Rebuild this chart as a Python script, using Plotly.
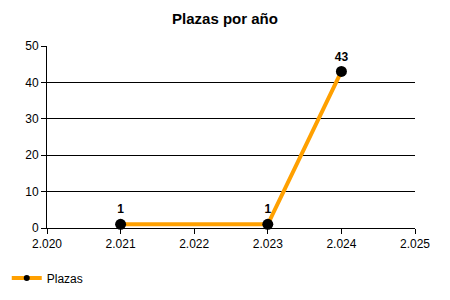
import plotly.graph_objects as go

years = [2021, 2023, 2024]
plazas = [1, 1, 43]
labels = ["1", "1", "43"]
series_name = "Plazas"
title = "Plazas por año"

fig = go.Figure()
fig.add_trace(go.Scatter(
    x=years, y=plazas, name=series_name,
    mode="lines+markers+text",
    text=labels, textposition="top center",
    textfont=dict(family="Liberation Sans", size=12, color="black", weight="bold"),
    line=dict(color="#FFA000", width=4),
    marker=dict(color="black", size=11),
    cliponaxis=False, showlegend=False,
))
# legend entry with small marker, as in the reference
fig.add_trace(go.Scatter(
    x=[None], y=[None], name=series_name, mode="lines+markers",
    line=dict(color="#FFA000", width=4),
    marker=dict(color="black", size=6),
    showlegend=True,
))

fig.update_layout(
    width=450, height=300,
    margin=dict(l=47, r=35, t=46, b=72),
    paper_bgcolor="white", plot_bgcolor="white",
    separators=",.",
    title=dict(text="<b>" + title + "</b>", x=0.5, xanchor="center", y=1 - 19/300, yanchor="middle",
               font=dict(family="Liberation Sans", size=15, color="black")),
    font=dict(family="Liberation Sans", size=12, color="black"),
    legend=dict(orientation="h", xref="container", yref="container", x=0.015, y=1 - 278/300,
                xanchor="left", yanchor="middle", font=dict(size=12), itemwidth=30),
    xaxis=dict(range=[2020, 2025], dtick=1, tick0=2020, tickformat=",d",
               showgrid=False, zeroline=False, showline=True, linecolor="black", linewidth=1,
               ticks="outside", ticklen=5, tickcolor="black"),
    yaxis=dict(range=[0, 50], dtick=10, showgrid=True, gridcolor="black", gridwidth=1,
               zeroline=False, showline=True, linecolor="black", linewidth=1,
               ticks="outside", ticklen=5, tickcolor="black"),
)

fig.write_html("out.html")
